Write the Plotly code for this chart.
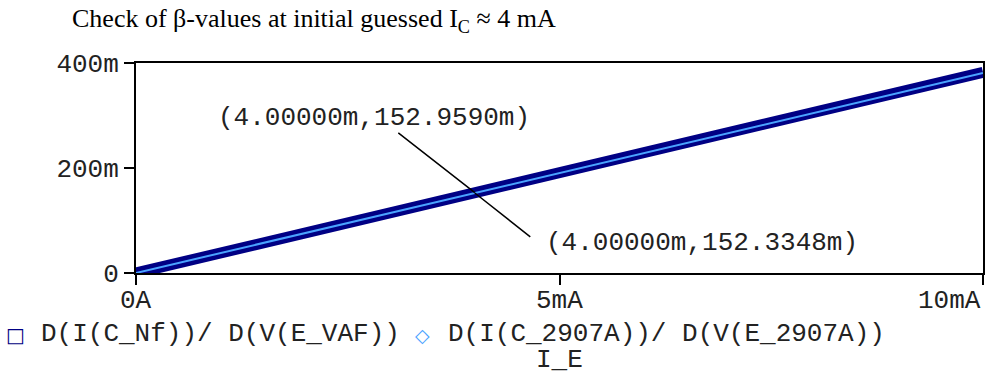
import plotly.graph_objects as go

# Emitter current sweep (mA) and small-signal transconductance dI_C/dV_E (milli-units)
ie_mA = [0, 1, 2, 3, 4, 5, 6, 7, 8, 9, 10]
gm_nf = [0, 38.24, 76.48, 114.72, 152.959, 191.20, 229.44, 267.68, 305.92, 344.16, 382.40]
gm_2907a = [0, 38.08, 76.17, 114.25, 152.3348, 190.42, 228.50, 266.59, 304.67, 342.75, 380.84]

name_nf = "D(I(C_Nf))/ D(V(E_VAF))"
name_2907a = "D(I(C_2907A))/ D(V(E_2907A))"
x_title = "I_E"

x_ticks = [0, 5, 10]
x_ticktext = ["0A", "5mA", "10mA"]
y_ticks = [0, 200, 400]
y_ticktext = ["0", "200m", "400m"]

# Cursor readout at I_E = 4 mA
cursor_x = 4
cursor_nf = 152.959
cursor_2907a = 152.3348

NAVY = "#000084"
LIGHT = "#4aa3ff"
MONO = "Liberation Mono, Courier New, monospace"
SERIF = "Liberation Serif, Times New Roman, serif"
FS = 26
TXT = "#222"

W, H = 989, 377
L, R, T, B = 136, 4, 63, 104
PW = W - L - R
PH = H - T - B


def px_x(px):
    return (px - L) / PW


def px_y(py):
    return (H - B - py) / PH


fig = go.Figure()
fig.add_trace(go.Scatter(x=ie_mA, y=gm_nf, mode="lines", name=name_nf,
                         line=dict(color=NAVY, width=11)))
fig.add_trace(go.Scatter(x=ie_mA, y=gm_2907a, mode="lines", name=name_2907a,
                         line=dict(color=LIGHT, width=2)))

ann = []
# x tick labels: first and middle centred, last right-aligned to the frame
for i, (v, t) in enumerate(zip(x_ticks, x_ticktext)):
    anchor = "right" if i == len(x_ticks) - 1 else "center"
    ann.append(dict(x=v, y=0, xref="x", yref="y", text=t, showarrow=False,
                    xanchor=anchor, yanchor="top", yshift=-11,
                    font=dict(family=MONO, size=FS, color=TXT)))

# cursor labels and their leader lines
ann.append(dict(x=cursor_x, y=cursor_nf, xref="x", yref="y",
                text=f"({cursor_x:.5f}m,{cursor_nf:.4f}m)", showarrow=False,
                xshift=-101, yshift=75,
                font=dict(family=MONO, size=FS, color=TXT)))
ann.append(dict(x=cursor_x, y=cursor_2907a, xref="x", yref="y",
                text=f"({cursor_x:.5f}m,{cursor_2907a:.4f}m)", showarrow=False,
                xshift=227, yshift=-50,
                font=dict(family=MONO, size=FS, color=TXT)))
ann.append(dict(x=cursor_x, y=cursor_nf, xref="x", yref="y", text="",
                showarrow=True, arrowhead=0, arrowwidth=1.5, arrowcolor="black",
                ax=-78, ay=-61, standoff=0, startstandoff=0))
ann.append(dict(x=cursor_x, y=cursor_2907a, xref="x", yref="y", text="",
                showarrow=True, arrowhead=0, arrowwidth=1.5, arrowcolor="black",
                ax=57, ay=45, standoff=0, startstandoff=0))

# legend row
ann.append(dict(x=px_x(15), y=px_y(335), xref="paper", yref="paper", text="□",
                showarrow=False, xanchor="center", yanchor="middle",
                font=dict(family="DejaVu Sans", size=20, color=NAVY, weight="bold")))
ann.append(dict(x=px_x(39), y=px_y(334), xref="paper", yref="paper", text=name_nf,
                showarrow=False, xanchor="left", yanchor="middle",
                font=dict(family=MONO, size=FS, color=TXT)))
ann.append(dict(x=px_x(423), y=px_y(335), xref="paper", yref="paper", text="◇",
                showarrow=False, xanchor="center", yanchor="middle",
                font=dict(family="DejaVu Sans", size=19, color=LIGHT, weight="bold")))
ann.append(dict(x=px_x(447), y=px_y(334), xref="paper", yref="paper", text=name_2907a,
                showarrow=False, xanchor="left", yanchor="middle",
                font=dict(family=MONO, size=FS, color=TXT)))

# x-axis variable name under the legend
ann.append(dict(x=0.5, y=px_y(360), xref="paper", yref="paper", text=x_title,
                showarrow=False, xanchor="center", yanchor="middle",
                font=dict(family=MONO, size=FS, color=TXT)))

fig.update_layout(
    width=W, height=H,
    margin=dict(l=L, r=R, t=T, b=B),
    paper_bgcolor="white", plot_bgcolor="white",
    showlegend=False,
    title=dict(text="Check of β-values at initial guessed I<sub>C</sub> ≈ 4 mA",
               x=72 / W, xanchor="left", xref="container",
               y=1 - 18 / H, yanchor="middle", yref="container",
               font=dict(family=SERIF, size=26, color="black")),
    annotations=ann,
    xaxis=dict(range=[0, 10], tickvals=x_ticks, showticklabels=False,
               ticks="outside", ticklen=10, tickwidth=2, tickcolor="black",
               showline=True, linecolor="black", linewidth=2, mirror=True,
               showgrid=False, zeroline=False),
    yaxis=dict(range=[0, 400], tickvals=y_ticks, ticktext=y_ticktext,
               ticks="outside", ticklen=10, tickwidth=2, tickcolor="black",
               tickfont=dict(family=MONO, size=FS, color=TXT),
               showline=True, linecolor="black", linewidth=2, mirror=True,
               showgrid=False, zeroline=False),
)

fig.write_html("out.html")
